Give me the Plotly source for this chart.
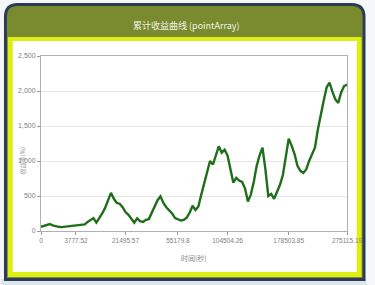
import plotly.graph_objects as go

# ---- data ----
point_index = list(range(106))
cum_return = [60, 70, 85, 100, 80, 65, 60, 55, 60, 62,
              65, 70, 75, 85, 90, 95, 130, 160, 185, 120,
              180, 250, 330, 450, 545, 460, 400, 390, 340, 270,
              230, 175, 120, 180, 140, 130, 160, 170, 260, 370,
              440, 495, 400, 340, 300, 250, 185, 165, 150, 160,
              190, 260, 360, 300, 350, 520, 670, 850, 1000, 950,
              1080, 1210, 1120, 1160, 1080, 880, 690, 760, 720, 700,
              610, 420, 520, 700, 930, 1080, 1190, 880, 500, 530,
              460, 560, 660, 800, 1080, 1320, 1220, 1100, 930, 860,
              830, 880, 1000, 1110, 1190, 1450, 1680, 1860, 2050, 2120,
              1990, 1880, 1830, 1980, 2070, 2090]
x_tick_index = [0, 12, 29, 47, 64, 85, 105]
x_tick_labels = ["0", "3777.52", "21495.57", "55179.8", "104504.26", "178503.85", "275115.19"]
y_ticks = [0, 500, 1000, 1500, 2000, 2500]

title_text = "累计收益曲线 (pointArray)"
x_title = "时间(秒)"
y_title = "收益率(%)"

# ---- geometry ----
W, H = 375, 285
L, R, T, B = 41, 20, 56, 54
PW = W - L - R
PH = H - T - B

def fx(x):
    return (x - L) / PW

def fy(y):
    return (H - B - y) / PH

def rounded(x0, y0, x1, y1, r):
    p = f"M {fx(x0)},{fy(y1)} "
    p += f"L {fx(x0)},{fy(y0 + r)} Q {fx(x0)},{fy(y0)} {fx(x0 + r)},{fy(y0)} "
    p += f"L {fx(x1 - r)},{fy(y0)} Q {fx(x1)},{fy(y0)} {fx(x1)},{fy(y0 + r)} "
    p += f"L {fx(x1)},{fy(y1)} Z"
    return p

fig = go.Figure()
fig.add_trace(go.Scatter(x=point_index, y=cum_return, mode="lines",
                         line=dict(color="#1f6e1a", width=2.4), hoverinfo="skip"))

shapes = [
    dict(type="rect", x0=fx(0), x1=fx(375), y0=fy(285), y1=fy(279), fillcolor="#dde6ee",
         line=dict(width=0), xref="paper", yref="paper", layer="below"),
    dict(type="path", path=rounded(3, 3, 374, 281, 14), fillcolor="#2d3b58",
         line=dict(width=0), xref="paper", yref="paper", layer="below"),
    dict(type="path", path=rounded(6, 6, 371, 278, 11), fillcolor="#7a8a2e",
         line=dict(width=0), xref="paper", yref="paper", layer="below"),
    dict(type="rect", x0=fx(7), x1=fx(370), y0=fy(277), y1=fy(37), fillcolor="#dcee12",
         line=dict(width=0), xref="paper", yref="paper", layer="below"),
    dict(type="rect", x0=fx(12), x1=fx(365), y0=fy(272), y1=fy(41), fillcolor="#ffffff",
         line=dict(width=0), xref="paper", yref="paper", layer="below"),
]

annotations = [
    dict(text=title_text, x=fx(190), y=fy(25), xref="paper", yref="paper", showarrow=False,
         font=dict(family="Noto Sans CJK SC", size=9, color="#f2f2e6"), xanchor="center", yanchor="middle"),
    dict(text=x_title, x=fx(198), y=fy(258), xref="paper", yref="paper", showarrow=False,
         font=dict(family="Noto Sans CJK SC", size=7, color="#888888"), xanchor="center", yanchor="middle"),
    dict(text=y_title, x=fx(22), y=fy(160), xref="paper", yref="paper", showarrow=False, textangle=-90,
         font=dict(family="Noto Sans CJK SC", size=6, color="#999999"), xanchor="center", yanchor="middle"),
]

x_tick_font = dict(family="Liberation Sans Narrow, Arial Narrow, Liberation Sans", size=6.5, color="#808080")
y_tick_font = dict(family="Liberation Sans Narrow, Arial Narrow, Liberation Sans", size=7, color="#808080")

fig.update_layout(
    width=W, height=H,
    margin=dict(l=L, r=R, t=T, b=B),
    paper_bgcolor="#f6f7f9", plot_bgcolor="#ffffff",
    showlegend=False, shapes=shapes, annotations=annotations,
    xaxis=dict(range=[0, 105], tickmode="array", tickvals=x_tick_index, ticktext=x_tick_labels,
               showgrid=False, zeroline=False, showline=True, mirror=True, linecolor="#b0b0b0",
               ticks="outside", ticklen=3, tickcolor="#999999", tickfont=x_tick_font),
    yaxis=dict(range=[0, 2500], tickmode="array", tickvals=y_ticks, tickformat=",",
               showgrid=True, gridcolor="#e6e6e6", zeroline=False, showline=True, mirror=True,
               linecolor="#b0b0b0", ticks="outside", ticklen=3, tickcolor="#999999", tickfont=y_tick_font),
)

fig.write_html("out.html", config={"displayModeBar": False},
               post_script="document.body.style.margin='0';document.body.style.overflow='hidden';")
